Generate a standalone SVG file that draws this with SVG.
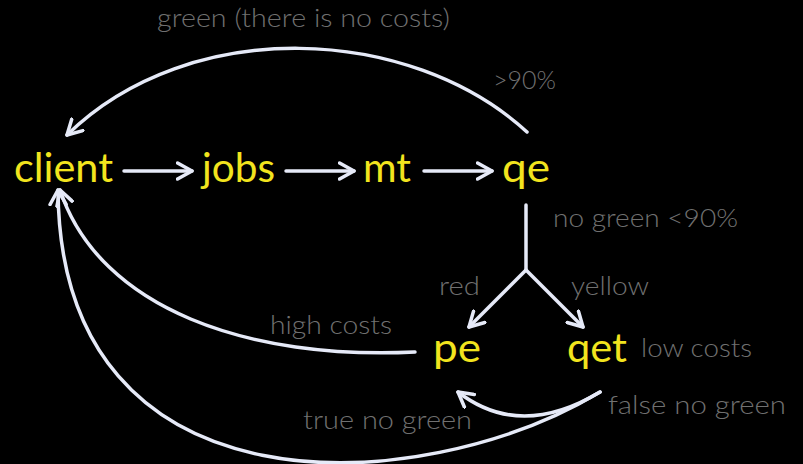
<svg xmlns="http://www.w3.org/2000/svg" width="803" height="464" viewBox="0 0 803 464">
<defs>
<style>
.node{font-family:"Lato","DejaVu Sans",sans-serif;font-size:40px;fill:#f2e41e;font-weight:400}
.lbl{font-family:"Lato","DejaVu Sans",sans-serif;font-size:25px;fill:#707070;font-weight:300}
.edge{fill:none;stroke:#e6eaf8;stroke-width:3.5;stroke-linecap:round}
</style>
<marker id="arr" viewBox="0 0 12 12" refX="10" refY="6" markerWidth="5.5" markerHeight="5.5" orient="auto" markerUnits="strokeWidth">
<path d="M1,1 L10,6 L1,11" fill="none" stroke="#e6eaf8" stroke-width="2.2" stroke-linecap="round" stroke-linejoin="round"/>
</marker>
</defs>
<rect width="803" height="464" fill="#000"/>
<g id="connectors">
<path class="edge" marker-end="url(#arr)" d="M124,171 L192,171"/>
<path class="edge" marker-end="url(#arr)" d="M286,171 L354,171"/>
<path class="edge" marker-end="url(#arr)" d="M424,171 L492,171"/>
<path class="edge" marker-end="url(#arr)" d="M527,132 C410,25 190,15 67,135"/>
<path class="edge" d="M526,205 L526,270"/>
<path class="edge" marker-end="url(#arr)" d="M526,270 L469,327"/>
<path class="edge" marker-end="url(#arr)" d="M526,270 L583,327"/>
<path class="edge" marker-end="url(#arr)" d="M415,352 C250,360 100,310 60,190"/>
<path class="edge" marker-end="url(#arr)" d="M600,392 C420,500 60,520 58,190"/>
<path class="edge" marker-end="url(#arr)" d="M600,392 Q520,440 458,392"/>
</g>
<g id="client"><text class="node" x="14" y="182" textLength="99" lengthAdjust="spacingAndGlyphs">client</text></g>
<g id="jobs"><text class="node" x="202" y="182" textLength="73" lengthAdjust="spacingAndGlyphs">jobs</text></g>
<g id="mt"><text class="node" x="363" y="182" textLength="48" lengthAdjust="spacingAndGlyphs">mt</text></g>
<g id="qe"><text class="node" x="502" y="182" textLength="48" lengthAdjust="spacingAndGlyphs">qe</text></g>
<g id="pe"><text class="node" x="433" y="362" textLength="48" lengthAdjust="spacingAndGlyphs">pe</text></g>
<g id="qet"><text class="node" x="567" y="362" textLength="60" lengthAdjust="spacingAndGlyphs">qet</text></g>
<g id="labels">
<text class="lbl" x="157" y="27" textLength="293" lengthAdjust="spacingAndGlyphs">green (there is no costs)</text>
<text class="lbl" x="493" y="89" textLength="63" lengthAdjust="spacingAndGlyphs">&gt;90%</text>
<text class="lbl" x="553" y="227" textLength="185" lengthAdjust="spacingAndGlyphs">no green &lt;90%</text>
<text class="lbl" x="439" y="295" textLength="41" lengthAdjust="spacingAndGlyphs">red</text>
<text class="lbl" x="571" y="295" textLength="78" lengthAdjust="spacingAndGlyphs">yellow</text>
<text class="lbl" x="270" y="334" textLength="122" lengthAdjust="spacingAndGlyphs">high costs</text>
<text class="lbl" x="641" y="357" textLength="111" lengthAdjust="spacingAndGlyphs">low costs</text>
<text class="lbl" x="608" y="414" textLength="178" lengthAdjust="spacingAndGlyphs">false no green</text>
<text class="lbl" x="303" y="429" textLength="169" lengthAdjust="spacingAndGlyphs">true no green</text>
</g>
</svg>
